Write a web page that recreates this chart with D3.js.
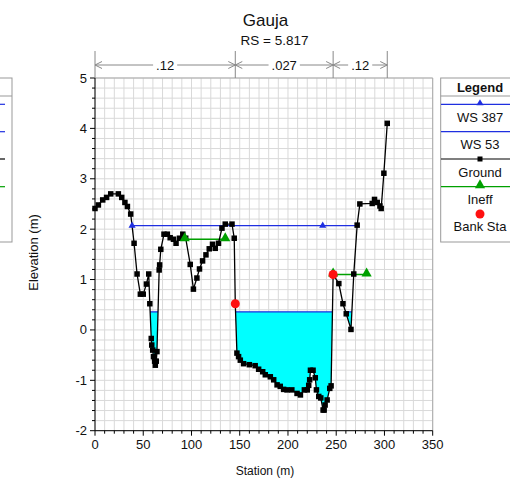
<!DOCTYPE html>
<html><head><meta charset="utf-8">
<script src="https://cdn.jsdelivr.net/npm/d3@7"></script>
<style>body{margin:0;background:#fff;overflow:hidden}svg{display:block}text{font-family:"Liberation Sans",Arial,sans-serif;fill:#111}</style>
</head><body><svg id="c" width="510" height="484"></svg>
<script>
// ---- data ----
const title = "Gauja";
const subtitle = "RS = 5.817";
const groundStation = [0,3.5,8,12,16.3,24.2,27.7,31,33.6,37,40.5,43.6,47,50,53.3,55.7,56.8,58.3,58.8,59.8,60.6,61.8,62.5,63.5,64.2,66.5,67,68.2,71.5,75,77.9,81.3,84,87.5,91,94,98.7,102,105.6,108.3,111.5,115,118.4,121.8,124.6,128,131.6,135,142,144.3,145.4,147.1,148.8,150.6,154,160,166,169.6,173.8,176.5,181.7,185.2,188.7,192,195.5,199,204,209.4,212.9,217,220,221.5,222.5,223.3,226,228.3,229.5,231.9,234,236.4,237.5,238.5,240.6,243.3,244.7,246.8,252.7,257,260.4,265.3,268.2,271.7,274.5,287.3,289.7,292.5,295.3,296.6,299.4,302.9];
const groundElev = [2.41,2.48,2.58,2.63,2.70,2.70,2.63,2.53,2.45,2.30,1.72,1.11,0.71,0.71,0.91,1.11,0.52,-0.17,-0.30,-0.40,-0.53,-0.62,-0.70,-0.62,-0.43,1.19,1.29,1.60,1.90,1.90,1.83,1.80,1.72,1.82,1.90,1.82,1.30,0.81,1.03,1.21,1.37,1.49,1.61,1.70,1.62,1.72,2.02,2.10,2.10,1.82,0.52,-0.46,-0.53,-0.60,-0.67,-0.69,-0.71,-0.78,-0.83,-0.89,-0.93,-0.99,-1.09,-1.12,-1.18,-1.19,-1.19,-1.26,-1.29,-1.19,-1.19,-1.10,-0.99,-0.80,-0.80,-0.95,-1.19,-1.32,-1.35,-1.59,-1.59,-1.49,-1.39,-1.16,-1.11,1.10,0.92,0.52,0.32,0.01,1.11,2.08,2.50,2.51,2.59,2.53,2.46,2.41,3.11,4.10];
const ws387 = 2.07;
const ws387Markers = [38.4, 236];
const ws53 = 0.36;
const ineffStart = [93, 246.8];
const ineffEnd = [135, 281.5];
const ineffElev = [1.8, 1.1];
const bankStation = [145.4, 246.8];
const bankElev = [0.52, 1.10];
const nBreaks = [0, 145.4, 246.8, 302.9];
const nValues = [".12", ".027", ".12"];
const xTicks = [0,50,100,150,200,250,300,350];
const yTicks = [-2,-1,0,1,2,3,4,5];
const legendItems = ["WS 387","WS 53","Ground","Ineff","Bank Sta"];

// ---- chart ----
const svg = d3.select("#c");
const x = d3.scaleLinear().domain([0,350]).range([95,432.7]);
const y = d3.scaleLinear().domain([-2,5]).range([430.7,78]);
const ground = groundStation.map((s,i)=>({s, e:groundElev[i]}));
const BLUE = "#1f2fe0", GREEN = "#00a000", CYAN = "#00ffff", RED = "#ff1010";

// grid
const g = svg.append("g");
d3.range(0,351,10).forEach(v=>g.append("line").attr("x1",x(v)).attr("x2",x(v)).attr("y1",y(-2)).attr("y2",y(5)).attr("stroke","#d9d9d9").attr("stroke-width",1));
d3.range(-2,5.001,0.2).forEach(v=>g.append("line").attr("x1",x(0)).attr("x2",x(350)).attr("y1",y(v)).attr("y2",y(v)).attr("stroke","#d9d9d9").attr("stroke-width",1));
// frame top/right
svg.append("line").attr("x1",x(0)).attr("x2",x(350)).attr("y1",y(5)).attr("y2",y(5)).attr("stroke","#aaa");
svg.append("line").attr("x1",x(350)).attr("x2",x(350)).attr("y1",y(5)).attr("y2",y(-2)).attr("stroke","#aaa");

// water fill WS 53
const pts = [];
for (let i=0;i<ground.length;i++){
  const p = ground[i];
  if (i>0){
    const q = ground[i-1];
    if ((q.e<ws53) !== (p.e<ws53)){
      const t = (ws53-q.e)/(p.e-q.e);
      pts.push({s:q.s+t*(p.s-q.s), e:ws53, in:true});
    }
  }
  pts.push({s:p.s, e:p.e, in:p.e<ws53});
}
svg.append("path").attr("d", d3.area().defined(d=>d.in).x(d=>x(d.s)).y0(y(ws53)).y1(d=>y(d.e))(pts)).attr("fill",CYAN).attr("stroke","none");
svg.append("path").attr("d", d3.line().defined(d=>d.in).x(d=>x(d.s)).y(y(ws53))(pts)).attr("fill","none").attr("stroke",BLUE).attr("stroke-width",1.2);

// WS 387 extent
function crossings(level){
  const c=[];
  for(let i=1;i<ground.length;i++){const q=ground[i-1],p=ground[i];
    if((q.e<level)!==(p.e<level)){const t=(level-q.e)/(p.e-q.e);c.push(q.s+t*(p.s-q.s));}}
  return c;
}
const c387 = crossings(ws387);
svg.append("line").attr("x1",x(c387[0])).attr("x2",x(c387[c387.length-1])).attr("y1",y(ws387)).attr("y2",y(ws387)).attr("stroke",BLUE).attr("stroke-width",1.2);

// ineffective
ineffStart.forEach((s0,i)=>{
  svg.append("line").attr("x1",x(s0)).attr("x2",x(ineffEnd[i])).attr("y1",y(ineffElev[i])).attr("y2",y(ineffElev[i])).attr("stroke",GREEN).attr("stroke-width",1.3);
});

// ground
svg.append("path").attr("d", d3.line().x(d=>x(d.s)).y(d=>y(d.e))(ground)).attr("fill","none").attr("stroke","#000").attr("stroke-width",1.3);
svg.selectAll(".gm").data(ground).enter().append("rect").attr("x",d=>x(d.s)-2.75).attr("y",d=>y(d.e)-2.75).attr("width",5.5).attr("height",5.5).attr("fill","#000");

const tri = d3.symbol().type(d3.symbolTriangle);
ws387Markers.forEach(s=>svg.append("path").attr("d",tri.size(22)()).attr("transform",`translate(${x(s)},${y(ws387)})`).attr("fill",BLUE));
ineffStart.forEach((s0,i)=>{
  [s0, ineffEnd[i]].forEach(s=>svg.append("path").attr("d",tri.size(45)()).attr("transform",`translate(${x(s)},${y(ineffElev[i])-1})`).attr("fill",GREEN));
});
bankStation.forEach((s,i)=>svg.append("circle").attr("cx",x(s)).attr("cy",y(bankElev[i])).attr("r",4.5).attr("fill",RED));

// axes
const yAx = svg.append("g").attr("transform",`translate(${x(0)},0)`);
yAx.append("line").attr("y1",y(-2)).attr("y2",y(5)).attr("stroke","#000");
d3.range(-2,5.001,0.2).forEach(v=>{
  const major = Math.abs(v-Math.round(v))<1e-6;
  yAx.append("line").attr("x1",major?-5:-3).attr("x2",0).attr("y1",y(v)).attr("y2",y(v)).attr("stroke","#000");
});
yTicks.forEach(v=>yAx.append("text").attr("x",-8).attr("y",y(v)+4.5).attr("text-anchor","end").attr("font-size",13).text(v));
const xAx = svg.append("g").attr("transform",`translate(0,${y(-2)})`);
xAx.append("line").attr("x1",x(0)).attr("x2",x(350)).attr("stroke","#000");
d3.range(0,351,10).forEach(v=>{
  const major = v%50===0;
  xAx.append("line").attr("x1",x(v)).attr("x2",x(v)).attr("y1",0).attr("y2",major?5:3).attr("stroke","#000");
});
xTicks.forEach(v=>xAx.append("text").attr("x",x(v)).attr("y",18.5).attr("text-anchor","middle").attr("font-size",13).text(v));

svg.append("text").attr("transform","translate(38,252.5) rotate(-90)").attr("text-anchor","middle").attr("font-size",13).text("Elevation (m)");
svg.append("text").attr("x",265).attr("y",475).attr("text-anchor","middle").attr("font-size",12).text("Station (m)");
svg.append("text").attr("x",265.5).attr("y",25.5).attr("text-anchor","middle").attr("font-size",17).text(title);
svg.append("text").attr("x",274.5).attr("y",45).attr("text-anchor","middle").attr("font-size",13.5).text(subtitle);

// n-values
const NG = "#888";
const nY = 65;
nBreaks.forEach(s=>svg.append("line").attr("x1",x(s)).attr("x2",x(s)).attr("y1",51).attr("y2",y(5)).attr("stroke",NG));
nValues.forEach((lab,i)=>{
  const a = x(nBreaks[i]), b = x(nBreaks[i+1]), m=(a+b)/2;
  const t = svg.append("text").attr("x",m).attr("y",nY+5).attr("text-anchor","middle").attr("font-size",13).text(lab);
  const w = t.node().getComputedTextLength()/2+3;
  svg.append("line").attr("x1",a).attr("x2",m-w).attr("y1",nY).attr("y2",nY).attr("stroke",NG);
  svg.append("line").attr("x1",m+w).attr("x2",b).attr("y1",nY).attr("y2",nY).attr("stroke",NG);
  svg.append("path").attr("d",`M${a+7},${nY-3.5}L${a},${nY}L${a+7},${nY+3.5}`).attr("fill","none").attr("stroke",NG);
  svg.append("path").attr("d",`M${b-7},${nY-3.5}L${b},${nY}L${b-7},${nY+3.5}`).attr("fill","none").attr("stroke",NG);
});

// legend (right)
const L = svg.append("g");
L.append("rect").attr("x",440.7).attr("y",78).attr("width",90).attr("height",164).attr("fill","#fff").attr("stroke","#999");
L.append("line").attr("x1",440.7).attr("x2",510).attr("y1",96).attr("y2",96).attr("stroke","#999");
L.append("text").attr("x",480).attr("y",91.5).attr("text-anchor","middle").attr("font-size",13).attr("font-weight","bold").text("Legend");
const lineY = [104.3,131.7,159,186.7,214];
const textY = [121.5,149,176.5,203.5,231];
const lcol = [BLUE,BLUE,"#000",GREEN,null];
legendItems.forEach((lab,i)=>{
  if (lcol[i]) L.append("line").attr("x1",441).attr("x2",510).attr("y1",lineY[i]).attr("y2",lineY[i]).attr("stroke",lcol[i]).attr("stroke-width",1.2);
  if (i===0) L.append("path").attr("d",tri.size(22)()).attr("transform",`translate(480,${lineY[i]-1})`).attr("fill",BLUE);
  if (i===2) L.append("rect").attr("x",477.5).attr("y",lineY[i]-2.5).attr("width",5).attr("height",5).attr("fill","#000");
  if (i===3) L.append("path").attr("d",tri.size(45)()).attr("transform",`translate(480,${lineY[i]-1.5})`).attr("fill",GREEN);
  if (i===4) L.append("circle").attr("cx",480).attr("cy",lineY[i]).attr("r",4.5).attr("fill",RED);
  L.append("text").attr("x",480).attr("y",textY[i]).attr("text-anchor","middle").attr("font-size",13).text(lab);
});

// clipped legend (left edge)
const L2 = svg.append("g");
L2.append("rect").attr("x",-80).attr("y",78).attr("width",92).attr("height",164).attr("fill","#fff").attr("stroke","#999");
L2.append("line").attr("x1",-80).attr("x2",12).attr("y1",96).attr("y2",96).attr("stroke","#999");
[BLUE,BLUE,"#000",GREEN].forEach((c,i)=>L2.append("line").attr("x1",0).attr("x2",5).attr("y1",lineY[i]).attr("y2",lineY[i]).attr("stroke",c).attr("stroke-width",1.2));
</script></body></html>
